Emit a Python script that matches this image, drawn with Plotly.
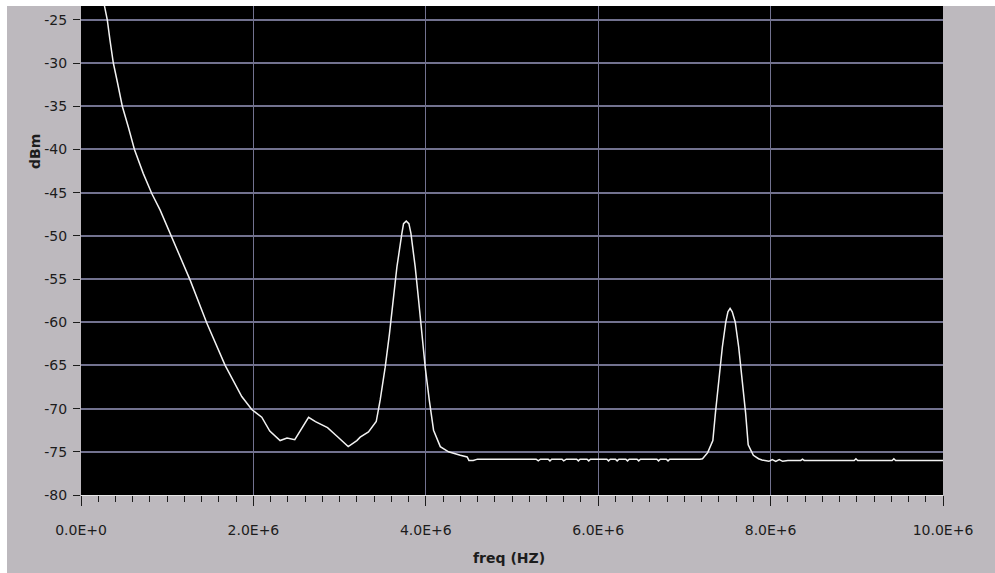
import plotly.graph_objects as go

# Spectrum trace (frequency in MHz, level in dBm)
freq_mhz = [
    0.25, 0.27, 0.305, 0.337, 0.375, 0.426, 0.479, 0.549, 0.62, 0.723, 0.821,
    0.917, 1.053, 1.265, 1.459,
    1.672, 1.865, 1.981, 2.097, 2.19, 2.31, 2.39, 2.48, 2.64, 2.72, 2.86,
    2.97, 3.10, 3.20, 3.239, 3.335, 3.425, 3.471, 3.529, 3.579, 3.626, 3.665,
    3.723, 3.742, 3.773, 3.804, 3.827, 3.877, 3.916, 3.955, 3.993, 4.040,
    4.090, 4.168, 4.264, 4.40, 4.48, 4.50, 4.55, 4.60,
    5.28, 5.305, 5.33, 5.42, 5.44, 5.46, 5.58, 5.60, 5.63, 5.75, 5.77, 5.79,
    5.87, 5.89, 5.91, 6.10, 6.12, 6.14, 6.20, 6.22, 6.24, 6.32, 6.34, 6.36,
    6.45, 6.47, 6.49, 6.68, 6.70, 6.72, 6.79, 6.81, 6.83, 7.18,
    7.21, 7.27, 7.33, 7.36, 7.40, 7.44, 7.48, 7.505, 7.53, 7.555, 7.59,
    7.63, 7.67, 7.71, 7.74, 7.80, 7.86, 7.90, 7.98, 8.02, 8.06, 8.10, 8.14,
    8.20, 8.35, 8.37, 8.39, 8.97, 8.99, 9.01, 9.41, 9.43, 9.45, 10.0,
]
level_dbm = [
    -22.3, -23.4, -25.0, -27.4, -30.0, -32.4, -35.0, -37.4, -40.0, -42.8, -45.1,
    -47.0, -50.1, -55.1, -60.1,
    -65.0, -68.6, -70.1, -71.0, -72.6, -73.7, -73.4, -73.6, -71.0, -71.5, -72.2,
    -73.2, -74.4, -73.7, -73.3, -72.7, -71.5, -69.0, -65.2, -61.3, -57.4, -53.6,
    -49.7, -48.6, -48.3, -48.6, -49.7, -53.6, -57.4, -61.3, -65.2, -69.0,
    -72.5, -74.4, -75.0, -75.4, -75.6, -76.0, -76.0, -75.85,
    -75.85, -76.05, -75.85, -75.85, -76.05, -75.85, -75.85, -76.05, -75.85, -75.85, -76.05, -75.85,
    -75.85, -76.05, -75.85, -75.85, -76.05, -75.85, -75.85, -76.05, -75.85, -75.85, -76.05, -75.85,
    -75.85, -76.05, -75.85, -75.85, -76.05, -75.85, -75.85, -76.05, -75.85, -75.85,
    -75.8, -75.1, -73.7, -70.5, -66.7, -62.9, -60.0, -58.8, -58.4, -58.8, -60.0,
    -62.9, -66.7, -70.5, -74.2, -75.4, -75.8, -75.95, -76.1, -75.9, -76.1, -75.9, -76.1,
    -76.0, -76.0, -75.85, -76.0, -76.0, -75.8, -76.0, -76.0, -75.8, -76.0, -76.0,
]

x_tick_vals = [0, 2, 4, 6, 8, 10]
x_tick_text = ["0.0E+0", "2.0E+6", "4.0E+6", "6.0E+6", "8.0E+6", "10.0E+6"]
y_tick_vals = [-80, -75, -70, -65, -60, -55, -50, -45, -40, -35, -30, -25]
y_tick_text = ["-80", "-75", "-70", "-65", "-60", "-55", "-50", "-45", "-40", "-35", "-30", "-25"]

BG = "#bdb9be"
GRID = "#72728f"
TXT = "#1c1c1c"
FONT = "DejaVu Sans"

fig = go.Figure()
fig.add_trace(go.Scatter(
    x=freq_mhz, y=level_dbm, mode="lines",
    line=dict(color="#f2f2f2", width=1.5),
    hoverinfo="skip", showlegend=False,
))

fig.update_layout(
    width=988, height=567,
    margin=dict(l=74, r=52, t=0, b=78),
    paper_bgcolor=BG, plot_bgcolor="#000000",
    showlegend=False,
    xaxis=dict(
        range=[0, 10], tickvals=x_tick_vals, ticktext=x_tick_text,
        ticks="outside", ticklen=10, tickwidth=1, tickcolor=TXT,
        minor=dict(dtick=0.2, ticks="outside", ticklen=6, tickwidth=1,
                   tickcolor=TXT, showgrid=False),
        showgrid=True, gridcolor=GRID, gridwidth=1,
        showline=True, linecolor="#e6e6e6", linewidth=1,
        zeroline=False, ticklabelstandoff=12,
        tickfont=dict(family=FONT, size=14, color=TXT),
        fixedrange=True,
    ),
    yaxis=dict(
        range=[-80, -23.4], tickvals=y_tick_vals, ticktext=y_tick_text,
        ticks="outside", ticklen=7, tickwidth=1, tickcolor=TXT,
        showgrid=True, gridcolor=GRID, gridwidth=2,
        showline=False, zeroline=False, ticklabelstandoff=3,
        tickfont=dict(family=FONT, size=14, color=TXT),
        fixedrange=True,
    ),
    annotations=[
        dict(text="<b>dBm</b>", xref="paper", yref="paper",
             x=-0.0534, y=0.7035, textangle=-90, showarrow=False,
             font=dict(family=FONT, size=14, color=TXT),
             xanchor="center", yanchor="middle"),
        dict(text="<b>freq (HZ)</b>", xref="paper", yref="paper",
             x=0.497, y=-0.1288, showarrow=False,
             font=dict(family=FONT, size=14, color=TXT),
             xanchor="center", yanchor="middle"),
    ],
)

fig.write_html(
    "out.html",
    post_script="document.body.style.margin='6px 0 0 7px';document.body.style.overflow='hidden';",
)
